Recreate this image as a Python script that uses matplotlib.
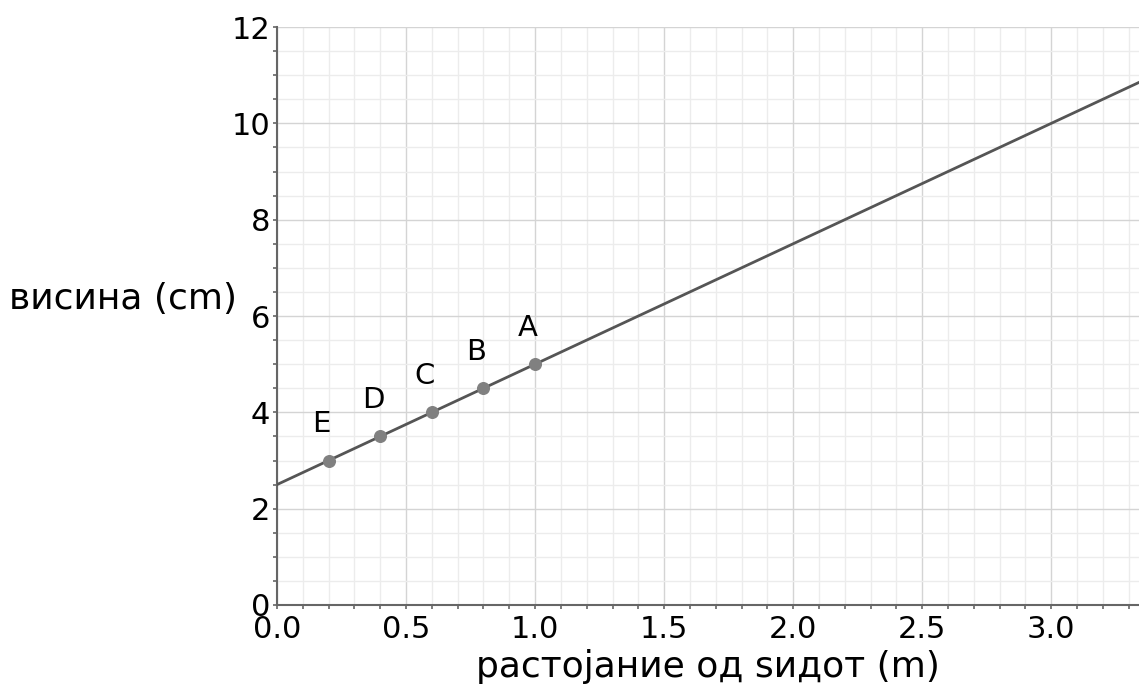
import numpy as np
import matplotlib.pyplot as plt
from matplotlib.ticker import MultipleLocator

# points on the line (distance from wall in m, height in cm)
point_x = [0.2, 0.4, 0.6, 0.8, 1.0]
point_y = [3.0, 3.5, 4.0, 4.5, 5.0]
point_labels = ["E", "D", "C", "B", "A"]

# line endpoints: height = 2.5 * distance + 2.5
line_x = [0.0, 3.4]
line_y = [2.5, 11.0]

fig = plt.figure(figsize=(11.39, 6.84), dpi=100)
ax = fig.add_axes([0.2432, 0.1155, 0.7568, 0.845])

ax.set_xlim(0, 3.34)
ax.set_ylim(0, 12)

ax.xaxis.set_major_locator(MultipleLocator(0.5))
ax.xaxis.set_minor_locator(MultipleLocator(0.1))
ax.yaxis.set_major_locator(MultipleLocator(2))
ax.yaxis.set_minor_locator(MultipleLocator(0.5))

ax.grid(True, which="major", color="#d4d4d4", linewidth=1.0)
ax.grid(True, which="minor", color="#ececec", linewidth=1.0)
ax.set_axisbelow(True)

for s in ["top", "right"]:
    ax.spines[s].set_visible(False)
for s in ["left", "bottom"]:
    ax.spines[s].set_color("#666666")
    ax.spines[s].set_linewidth(1.5)

ax.tick_params(which="both", length=3, width=1.2, color="#666666", labelsize=22, pad=2)
ax.tick_params(axis="x", which="both", pad=4)

ax.plot(line_x, line_y, color="#555555", linewidth=2, zorder=3)
ax.scatter(point_x, point_y, s=70, color="#808080", zorder=4)

for px, py, lab in zip(point_x, point_y, point_labels):
    ax.annotate(lab, (px, py), xytext=(-5, 26), textcoords="offset points",
                ha="center", va="center", fontsize=21)

ax.set_xlabel("растојание од ѕидот (m)", fontsize=26, va="baseline")
ax.xaxis.set_label_coords(0.5, -0.125)
ax.set_ylabel("висина (cm)", fontsize=26, rotation=0, ha="center", va="center")
ax.yaxis.set_label_coords(-0.179, 0.53)

plt.savefig("out.png", dpi=100)
